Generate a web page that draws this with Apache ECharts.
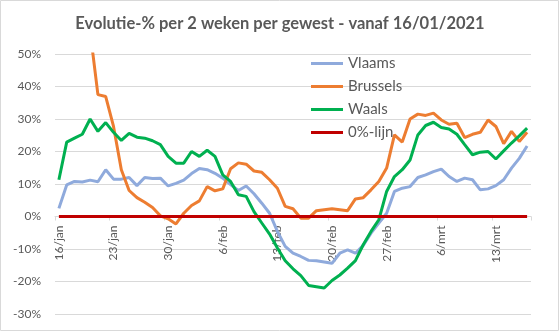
<!DOCTYPE html>
<html>
<head>
<meta charset="utf-8">
<script src="https://cdn.jsdelivr.net/npm/echarts@6/dist/echarts.min.js"></script>
<style>
html,body{margin:0;padding:0;background:#fff;}
#chart{width:560px;height:332px;}
</style>
</head>
<body>
<div id="chart"></div>
<script>
var categories = [
  '16/jan','17/jan','18/jan','19/jan','20/jan','21/jan','22/jan','23/jan','24/jan','25/jan','26/jan','27/jan','28/jan','29/jan','30/jan','31/jan',
  '1/feb','2/feb','3/feb','4/feb','5/feb','6/feb','7/feb','8/feb','9/feb','10/feb','11/feb','12/feb','13/feb','14/feb','15/feb','16/feb','17/feb','18/feb','19/feb','20/feb','21/feb','22/feb','23/feb','24/feb','25/feb','26/feb','27/feb','28/feb',
  '1/mrt','2/mrt','3/mrt','4/mrt','5/mrt','6/mrt','7/mrt','8/mrt','9/mrt','10/mrt','11/mrt','12/mrt','13/mrt','14/mrt','15/mrt','16/mrt','17/mrt'
];
var vlaams = [2.5,9.7,10.8,10.6,11.2,10.7,14.4,11.5,11.5,12.0,9.5,12.0,11.7,11.8,9.4,10.2,
  11.2,13.2,14.8,14.4,13.3,11.8,9.8,8.0,9.4,7.0,4.1,1.0,-4.6,-9.2,-11.3,-12.3,-13.5,-13.6,-14.0,-14.4,-11.3,-10.3,-11.3,-8.9,-5.1,-2.0,1.0,7.7,
  8.7,9.2,12.0,12.8,13.8,14.6,12.3,10.8,11.8,11.3,8.2,8.5,9.5,11.3,14.9,17.9,21.7];
var brussels = [90,80,70,62,57,37.5,36.9,27.7,14.4,8.0,5.8,4.4,2.8,0.2,-0.7,-2.3,
  1.0,3.4,4.8,9.2,7.9,8.5,14.7,16.5,16.1,14.0,13.6,11.3,8.7,3.1,2.4,-0.5,-0.5,1.8,2.1,2.4,2.1,1.8,5.4,5.8,8.2,10.8,14.9,25.1,
  22.9,30.0,31.5,31.1,31.8,29.7,28.4,28.7,24.3,25.3,25.9,29.7,27.7,22.4,26.2,23.1,25.9];
var waals = [11.3,22.9,24.1,25.3,30.0,26.2,28.9,25.9,23.4,25.6,24.4,24.1,23.3,22.1,18.5,16.4,
  16.4,20.0,18.5,20.4,18.5,12.8,10.8,6.7,6.2,1.5,-2.0,-5.4,-9.7,-13.6,-16.1,-18.2,-21.2,-21.6,-22.0,-19.7,-18.0,-15.9,-13.6,-8.7,-4.6,-1.0,7.7,12.3,
  14.4,17.4,25.1,28.0,29.0,27.4,26.9,25.3,22.1,19.0,19.8,20.0,17.7,20.2,22.6,24.8,27.2];
var nulLijn = [0,0,0,0,0,0,0,0,0,0,0,0,0,0,0,0,0,0,0,0,0,0,0,0,0,0,0,0,0,0,0,0,0,0,0,0,0,0,0,0,0,0,0,0,0,0,0,0,0,0,0,0,0,0,0,0,0,0,0,0,0];
var seriesNames = ['Vlaams','Brussels','Waals','0%-lijn'];
var seriesColors = ['#8faadc','#ed7d31','#00b050','#c00000'];
var seriesData = [vlaams, brussels, waals, nulLijn];
var titleText = 'Evolutie-% per 2 weken per gewest - vanaf 16/01/2021';
var yMin = -30, yMax = 50, yStep = 10;

var FONT = 'Lato, "Liberation Sans", sans-serif';
var GRID = {left: 55, right: 29, top: 54, bottom: 18};
var plotH = 332 - GRID.top - GRID.bottom;
// move the category axis up to the 0% level (Excel: axis crosses at 0)
var zeroOffset = -plotH * (0 - yMin) / (yMax - yMin);

var chart = echarts.init(document.getElementById('chart'), null, {renderer: 'canvas'});
var series = seriesNames.map(function (n, k) {
  return {
    name: n, type: 'line', data: seriesData[k], symbol: 'none', showSymbol: false,
    lineStyle: {color: seriesColors[k], width: 3}, itemStyle: {color: seriesColors[k]},
    clip: true, animation: false, z: 2 + k
  };
});
chart.setOption({
  animation: false,
  textStyle: {fontFamily: FONT},
  title: {
    text: titleText, left: 'center', top: 15, padding: 0,
    textStyle: {fontFamily: FONT, fontWeight: 'bold', fontSize: 16.5, color: '#595959'}
  },
  graphic: [{
    type: 'rect', silent: true, z: -10,
    shape: {x: 0.5, y: 0.5, width: 558, height: 330},
    style: {fill: 'none', stroke: '#d9d9d9', lineWidth: 1}
  }],
  legend: {
    data: seriesNames, orient: 'vertical', left: 311, top: 56, padding: 0,
    icon: 'rect', itemWidth: 32, itemHeight: 3, itemGap: 8,
    textStyle: {fontFamily: FONT, fontSize: 15, color: '#595959', lineHeight: 15}
  },
  grid: {left: GRID.left, right: GRID.right, top: GRID.top, bottom: GRID.bottom, containLabel: false, outerBoundsMode: 'none'},
  xAxis: {
    type: 'category', data: categories, boundaryGap: true, offset: zeroOffset,
    axisLine: {show: true, onZero: false, lineStyle: {color: '#d9d9d9', width: 1}},
    axisTick: {show: true, interval: 6, length: 4, lineStyle: {color: '#d9d9d9'}},
    axisLabel: {interval: 6, rotate: 90, margin: 9, color: '#595959', fontSize: 12, fontFamily: FONT},
    splitLine: {show: false}
  },
  yAxis: {
    type: 'value', min: yMin, max: yMax, interval: yStep,
    axisLine: {show: false}, axisTick: {show: false},
    axisLabel: {formatter: '{value}%', margin: 14, color: '#595959', fontSize: 12, fontFamily: FONT},
    splitLine: {lineStyle: {color: '#d9d9d9', width: 1}}
  },
  series: series
});
</script>
</body>
</html>
